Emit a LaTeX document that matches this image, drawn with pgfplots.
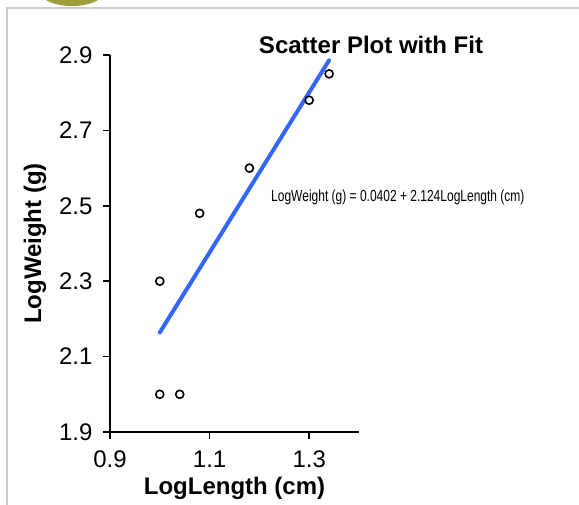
\documentclass[border=0pt]{standalone}
\usepackage{pgfplots}
\pgfplotsset{compat=1.18}
\usepackage{fontspec}
\setmainfont{Liberation Sans}
\definecolor{fitblue}{RGB}{51,102,255}
\definecolor{framegray}{RGB}{204,204,204}
\definecolor{logo}{RGB}{160,158,60}

\begin{document}
\begin{tikzpicture}
\path[use as bounding box] (0pt,0pt) rectangle (579pt,504pt);
% frame and the cut-off logo at the top
\fill[logo] (72pt,510pt) ellipse [x radius=30pt, y radius=12pt];
\draw[framegray, line width=2pt] (7pt,-5pt) -- (7pt,496pt) -- (590pt,496pt);

\begin{axis}[
    at={(110pt,72pt)}, anchor=south west,
    scale only axis,
    width=249pt, height=377pt,
    xmin=0.9, xmax=1.4, ymin=1.9, ymax=2.9,
    axis lines*=left,
    axis line style={line width=1.5pt},
    xtick={0.9,1.1,1.3},
    ytick={1.9,2.1,2.3,2.5,2.7,2.9},
    tick align=outside,
    major tick length=7pt,
    tick style={black, line width=1.5pt},
    /pgf/number format/assume math mode=true,
    /pgf/number format/fixed,
    /pgf/number format/fixed zerofill,
    /pgf/number format/precision=1,
    ticklabel style={font=\fontsize{24}{28}\selectfont},
    xticklabel style={yshift=-8pt},
    yticklabel style={xshift=-7pt},
    xlabel={LogLength (cm)},
    ylabel={LogWeight (g)},
    label style={font=\fontsize{24}{28}\selectfont\bfseries},
    xlabel style={at={(axis description cs:0.5,0)}, anchor=center, yshift=-56pt},
    ylabel style={at={(axis description cs:0,0.5)}, anchor=center, yshift=75pt},
    clip=false,
]
% least-squares fit line, LogWeight = 0.0402 + 2.124 LogLength
\addplot[color=fitblue, line width=4pt, line cap=round] coordinates {
    (1.00,2.164)
    (1.34,2.886)
};
\addplot[only marks, mark=*, mark size=4pt,
    mark options={draw=black, fill=white, line width=1.6pt}] coordinates {
    (1.00,2.00)
    (1.04,2.00)
    (1.00,2.30)
    (1.08,2.48)
    (1.18,2.60)
    (1.30,2.78)
    (1.34,2.85)
};
\end{axis}

\node[font=\fontsize{24}{28}\selectfont\bfseries] at (371pt,459pt) {Scatter Plot with Fit};
\node[anchor=west, inner sep=0pt] at (271pt,307pt)
    {\scalebox{0.75}[1]{\fontsize{16}{19}\selectfont LogWeight (g) = 0.0402 + 2.124LogLength (cm)}};
\end{tikzpicture}
\end{document}
